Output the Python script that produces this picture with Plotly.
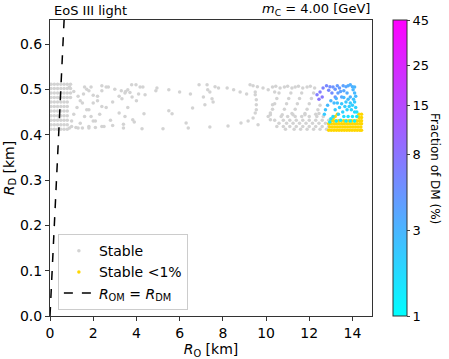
import numpy as np
import plotly.graph_objects as go

# --- data (R_O in km, R_D in km, DM fraction in %) ---

# dense grey blob next to the y axis
block_x = [0.05, 0.2, 0.35, 0.5, 0.65, 0.8, 0.05, 0.2, 0.35, 0.5, 0.65, 0.8,
           0.05, 0.2, 0.35, 0.5, 0.65, 0.8, 0.05, 0.2, 0.35, 0.5, 0.65, 0.8,
           0.05, 0.2, 0.35, 0.5, 0.65, 0.8, 0.05, 0.2, 0.35, 0.5, 0.65, 0.8,
           0.05, 0.2, 0.35, 0.5, 0.65, 0.8, 0.05, 0.2, 0.35, 0.5, 0.65, 0.8,
           0.05, 0.2, 0.35, 0.5, 0.65, 0.8, 0.05, 0.2, 0.35, 0.5, 0.65, 0.8,
           0.05, 0.2, 0.35, 0.5, 0.65, 0.8, 0.95, 0.95, 0.95, 0.95]
block_y = [0.412, 0.412, 0.412, 0.412, 0.412, 0.412, 0.422, 0.422, 0.422, 0.422, 0.422, 0.422,
           0.432, 0.432, 0.432, 0.432, 0.432, 0.432, 0.442, 0.442, 0.442, 0.442, 0.442, 0.442,
           0.452, 0.452, 0.452, 0.452, 0.452, 0.452, 0.462, 0.462, 0.462, 0.462, 0.462, 0.462,
           0.472, 0.472, 0.472, 0.472, 0.472, 0.472, 0.482, 0.482, 0.482, 0.482, 0.482, 0.482,
           0.492, 0.492, 0.492, 0.492, 0.492, 0.492, 0.502, 0.502, 0.502, 0.502, 0.502, 0.502,
           0.511, 0.511, 0.511, 0.511, 0.511, 0.511, 0.511, 0.502, 0.492, 0.482]

# sequences of grey points from 1 to 7 km
arcs_x = [0.9, 1.0, 1.1, 1.25, 1.4, 1.55, 1.7, 1.9,
          1.3, 1.4, 1.6, 1.8, 2.0, 2.2, 2.4, 2.6,
          1.8, 2.0, 2.3, 2.6, 2.9, 3.2, 3.5,
          2.4, 2.8, 3.2, 3.6, 4.0, 4.4, 4.9,
          1.0, 1.2, 1.5, 1.8, 2.1, 2.5, 2.9, 3.4, 3.9,
          0.9, 1.1, 1.3, 1.5, 1.7, 1.9, 2.1,
          1.6, 1.8, 2.0, 2.2, 2.4,
          2.4, 2.7, 3.0, 3.3, 3.7, 4.1]
arcs_y = [0.415, 0.43, 0.445, 0.46, 0.475, 0.49, 0.5, 0.505,
          0.415, 0.425, 0.44, 0.455, 0.47, 0.485, 0.497, 0.505,
          0.418, 0.43, 0.445, 0.46, 0.472, 0.485, 0.495,
          0.418, 0.432, 0.448, 0.46, 0.475, 0.488, 0.497,
          0.418, 0.416, 0.415, 0.415, 0.416, 0.418, 0.42, 0.423, 0.428,
          0.505, 0.495, 0.485, 0.47, 0.455, 0.44, 0.43,
          0.505, 0.497, 0.487, 0.475, 0.462,
          0.508, 0.505, 0.5, 0.497, 0.493, 0.49]

# scattered grey points 3 to 10.5 km
sparse_x = [3.78, 3.98, 4.17, 4.3, 3.6, 3.47, 3.33, 3.8, 4.95, 5.5, 6.0, 6.5, 6.9,
            6.6, 5.5, 5.65, 4.35, 3.47, 3.83, 6.3, 3.4, 4.26, 5.23, 6.4,
            7.27, 7.3, 7.4, 7.5, 7.55, 7.1, 7.17, 7.64, 7.8, 8.2, 8.5, 8.8, 9.1,
            9.26, 9.4, 9.6, 9.5, 9.5, 9.55, 9.55, 9.55, 9.5, 9.4, 9.17, 8.84, 8.24, 7.4,
            9.63, 9.86, 10.1, 10.4, 10.3, 10.2, 10.1, 10.2]
sparse_y = [0.51, 0.51, 0.505, 0.505, 0.499, 0.492, 0.479, 0.483, 0.503, 0.499, 0.494, 0.49, 0.51,
            0.459, 0.453, 0.446, 0.446, 0.44, 0.433, 0.426, 0.415, 0.413, 0.413, 0.415,
            0.51, 0.499, 0.494, 0.479, 0.472, 0.483, 0.466, 0.506, 0.503, 0.503, 0.499, 0.494, 0.49,
            0.51, 0.508, 0.506, 0.494, 0.488, 0.477, 0.466, 0.455, 0.448, 0.437, 0.43, 0.426, 0.419, 0.417,
            0.422, 0.503, 0.499, 0.494, 0.466, 0.448, 0.44, 0.433]

# grey arcs and bottom cluster 10 to 13 km
tail_x = [10.2, 10.3, 10.4, 10.5, 10.6, 10.65, 10.45, 10.3,
          10.75, 10.85, 10.95, 11.05, 11.15, 11.2, 11.0, 10.85,
          11.25, 11.35, 11.45, 11.55, 11.65, 11.7, 11.5, 11.35,
          11.8, 11.9, 12.0, 12.1, 12.2, 12.25, 12.05, 11.9,
          12.3, 12.4, 12.5,
          10.9, 11.3, 11.6, 11.9, 12.2, 12.5, 12.8,
          10.5, 10.8, 11.1, 11.4, 11.7, 12.0, 12.3, 12.6, 12.9,
          10.6, 10.95, 11.25, 11.55, 11.85, 12.15, 12.45, 12.75,
          10.4, 10.8, 11.1, 11.4, 11.7, 12.0, 12.3, 12.6, 12.9,
          10.7, 11.0, 11.35, 11.65, 12.0, 12.35, 12.65,
          11.2, 11.8, 12.45]
tail_y = [0.444, 0.456, 0.468, 0.48, 0.492, 0.503, 0.507, 0.505,
          0.444, 0.456, 0.468, 0.48, 0.492, 0.503, 0.507, 0.505,
          0.444, 0.456, 0.468, 0.48, 0.492, 0.503, 0.507, 0.505,
          0.444, 0.456, 0.468, 0.48, 0.492, 0.503, 0.507, 0.505,
          0.445, 0.455, 0.465,
          0.412, 0.412, 0.412, 0.412, 0.412, 0.412, 0.412,
          0.418, 0.418, 0.418, 0.418, 0.418, 0.418, 0.418, 0.418, 0.418,
          0.425, 0.425, 0.425, 0.425, 0.425, 0.425, 0.425, 0.425,
          0.432, 0.432, 0.432, 0.432, 0.432, 0.432, 0.432, 0.432, 0.432,
          0.44, 0.44, 0.44, 0.44, 0.44, 0.44, 0.44,
          0.447, 0.447, 0.447]

# stable configurations below 1 % DM
low_x = [12.9, 13.02, 13.14, 13.26, 13.38, 13.5, 13.62, 13.74, 13.86, 13.98, 14.1, 14.22, 14.34, 14.42,
         12.95, 13.07, 13.19, 13.31, 13.43, 13.55, 13.67, 13.79, 13.91, 14.03, 14.15, 14.27, 14.39,
         12.9, 13.02, 13.14, 13.26, 13.38, 13.5, 13.62, 13.74, 13.86, 13.98, 14.1, 14.22, 14.34, 14.42,
         13.0, 13.12, 13.24, 13.36, 13.48, 13.6, 13.72, 13.84, 13.96, 14.08, 14.2, 14.32, 14.42,
         14.3, 14.42, 14.3, 14.42, 13.1, 13.2, 13.3]
low_y = [0.41, 0.41, 0.41, 0.41, 0.41, 0.41, 0.41, 0.41, 0.41, 0.41, 0.41, 0.41, 0.41, 0.41,
         0.417, 0.417, 0.417, 0.417, 0.417, 0.417, 0.417, 0.417, 0.417, 0.417, 0.417, 0.417, 0.417,
         0.424, 0.424, 0.424, 0.424, 0.424, 0.424, 0.424, 0.424, 0.424, 0.424, 0.424, 0.424, 0.424, 0.424,
         0.431, 0.431, 0.431, 0.431, 0.431, 0.431, 0.431, 0.431, 0.431, 0.431, 0.431, 0.431, 0.431,
         0.438, 0.438, 0.445, 0.445, 0.436, 0.44, 0.445]

# stable configurations coloured by DM fraction
dm_x = [12.36, 12.5, 12.64, 12.8, 12.96, 12.6, 13.05, 13.2, 12.45, 12.9,
        13.3, 13.4, 13.57, 13.7, 13.8, 13.9, 14.0, 14.03, 14.1, 13.33, 13.5, 13.75, 13.9, 13.6,
        13.45, 14.1, 14.15, 13.2, 13.1,
        13.3, 13.5, 13.7, 13.9, 14.1, 14.15, 14.1, 13.95, 13.75, 13.55, 13.35, 13.1, 13.0,
        13.2, 13.4, 13.6, 13.8, 14.0, 14.2, 14.2, 13.9, 14.1, 13.7, 13.45, 13.25, 12.95,
        13.85, 14.0, 13.65,
        13.0, 13.15, 12.85, 12.75, 12.7, 13.25, 13.6, 13.8, 14.05]
dm_y = [0.488, 0.494, 0.503, 0.508, 0.506, 0.483, 0.492, 0.483, 0.478, 0.498,
        0.508, 0.503, 0.508, 0.506, 0.508, 0.51, 0.506, 0.499, 0.492, 0.492, 0.483, 0.492, 0.483, 0.497,
        0.495, 0.505, 0.485, 0.5, 0.505,
        0.47, 0.468, 0.472, 0.47, 0.472, 0.46, 0.45, 0.455, 0.455, 0.45, 0.445, 0.44, 0.435,
        0.455, 0.46, 0.44, 0.44, 0.44, 0.44, 0.45, 0.43, 0.43, 0.43, 0.432, 0.43, 0.428,
        0.462, 0.465, 0.462,
        0.475, 0.47, 0.465, 0.455, 0.445, 0.48, 0.482, 0.478, 0.478]
dm_frac = [7, 7, 6.5, 6, 5.5, 7.5, 5.5, 5, 8, 6,
           4.5, 4.5, 4, 3.8, 3.5, 3.3, 3.2, 3, 2.9, 4.3, 3.8, 3.5, 3.2, 3.7,
           4, 3, 2.7, 4.8, 5,
           2.5, 2.3, 2.3, 2.2, 2.2, 2, 1.8, 1.9, 2, 2, 2, 1.8, 1.6,
           2.2, 2.2, 1.7, 1.6, 1.5, 1.4, 1.6, 1.3, 1.2, 1.3, 1.4, 1.3, 1.3,
           2.1, 2.1, 2.1,
           3, 2.8, 2.8, 2.5, 2.2, 3.2, 2.9, 2.7, 2.5]

cbar_ticks = [1, 3, 8, 15, 25, 45]

stable_x = block_x + arcs_x + sparse_x + tail_x
stable_y = block_y + arcs_y + sparse_y + tail_y

fig = go.Figure()
fig.add_trace(go.Scatter(x=stable_x, y=stable_y, mode="markers", name="Stable",
                         marker=dict(color="lightgray", size=3.5)))
fig.add_trace(go.Scatter(x=low_x, y=low_y, mode="markers", name="Stable <1%",
                         marker=dict(color="gold", size=3.5)))
fig.add_trace(go.Scatter(
    x=dm_x, y=dm_y, mode="markers", showlegend=False,
    marker=dict(size=3.5, color=np.log10(dm_frac), cmin=0, cmax=np.log10(45),
                colorscale=[[0, "#00ffff"], [1, "#ff00ff"]],
                colorbar=dict(x=0.8706, xanchor="left", y=0.5, yanchor="middle", len=1, thickness=14,
                              xpad=0, ypad=0,
                              tickvals=np.log10(cbar_ticks), ticktext=[str(t) for t in cbar_ticks],
                              ticks="outside", ticklen=3, outlinecolor="#333", outlinewidth=1,
                              tickfont=dict(size=13, color="black")))))
fig.add_trace(go.Scatter(x=[0, 1], y=[0, 1], mode="lines",
                         name="<i>R</i><sub>OM</sub> = <i>R</i><sub>DM</sub>",
                         line=dict(color="black", dash="dash", width=1.5)))

axis_style = dict(showline=True, mirror=True, linecolor="#333", linewidth=1, ticks="outside",
                  ticklen=4, tickcolor="#333", showgrid=False, zeroline=False,
                  tickfont=dict(size=14, color="black"), automargin=False)
fig.update_xaxes(range=[0, 14.9], dtick=2, tick0=0, domain=[0, 0.817],
                 title=dict(text="<i>R</i><sub>O</sub> [km]", font=dict(size=14, color="black"), standoff=0),
                 **axis_style)
fig.update_yaxes(range=[0, 0.653], dtick=0.1, tick0=0, tickformat=".1f",
                 title=dict(text="<i>R</i><sub>D</sub> [km]", font=dict(size=14, color="black"), standoff=2),
                 **axis_style)

fig.add_annotation(text="EoS III light", x=0.005, y=1, xref="paper", yref="paper", xanchor="left",
                   yanchor="bottom", showarrow=False, font=dict(size=13, color="black"))
fig.add_annotation(text="<i>m</i><sub>C</sub> = 4.00 [GeV]", x=0.817, y=1, xref="paper", yref="paper",
                   xanchor="right", yanchor="bottom", showarrow=False, font=dict(size=13, color="black"))
fig.add_annotation(text="Fraction of DM (%)", x=1.0, y=0.5, xref="paper", yref="paper",
                   xanchor="right", textangle=90, showarrow=False, font=dict(size=12, color="black"))

fig.update_layout(
    width=449, height=359, margin=dict(l=50, r=5, t=20, b=43, autoexpand=False),
    plot_bgcolor="white", paper_bgcolor="white",
    font=dict(family="DejaVu Sans", color="black"),
    legend=dict(x=0.02, y=0.02, xanchor="left", yanchor="bottom", bgcolor="rgba(255,255,255,0.8)",
                bordercolor="#ccc", borderwidth=1, font=dict(size=14), itemwidth=30,
                tracegroupgap=0),
)
fig.write_html("out.html", post_script="document.body.style.margin='0';",
               config={"displayModeBar": False})
